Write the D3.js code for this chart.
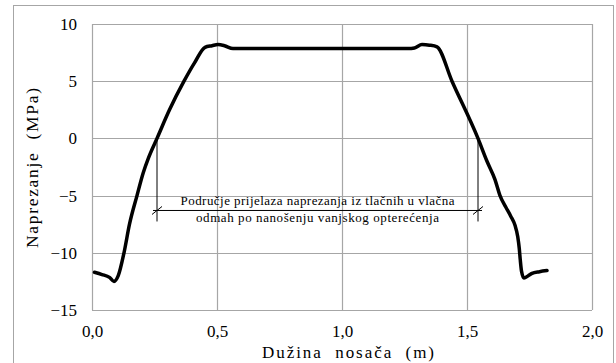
<!DOCTYPE html>
<html>
<head>
<meta charset="utf-8">
<script src="https://cdn.jsdelivr.net/npm/d3@7"></script>
<style>
  html, body { margin: 0; padding: 0; background: #fff; }
  svg { display: block; }
</style>
</head>
<body>
<svg id="chart" width="616" height="363"></svg>
<script>
// Stress along the beam length (m, MPa)
const positions = [0.01, 0.04, 0.07, 0.088, 0.105, 0.128, 0.15, 0.18, 0.205, 0.226, 0.26, 0.31, 0.368, 0.41, 0.452, 0.48, 0.504, 0.53, 0.564,
                   1.264, 1.29, 1.32, 1.35, 1.38, 1.44, 1.544, 1.58, 1.612, 1.632, 1.655, 1.675, 1.692, 1.703, 1.709, 1.713, 1.718, 1.728, 1.745, 1.76, 1.79, 1.82];
const stress    = [-11.7, -11.9, -12.15, -12.5, -12.0, -10.0, -7.5, -5.0, -3.0, -1.7, 0.0, 2.5, 5.0, 6.6, 7.96, 8.1, 8.2, 8.1, 7.85,
                   7.85, 7.9, 8.2, 8.15, 8.0, 5.0, 0.0, -2.0, -3.6, -5.0, -6.0, -6.8, -7.6, -8.6, -9.6, -10.6, -11.6, -12.2, -12.0, -11.8, -11.65, -11.55];

const xTicks = [0.0, 0.5, 1.0, 1.5, 2.0];
const yTicks = [-15, -10, -5, 0, 5, 10];

// Zone where stress changes from compression to tension
const zoneBounds = [0.26, 1.544];
const zoneLabel = ["Područje prijelaza naprezanja iz tlačnih u vlačna",
                   "odmah po nanošenju vanjskog opterećenja"];
const zoneArrowStress = -6.3;

const xTitle = "Dužina  nosača  (m)";
const yTitle = "Naprezanje  (MPa)";

const SERIF = "'Liberation Serif', 'Times New Roman', serif";

const svg = d3.select("#chart");
const m = { left: 92, right: 592, top: 24, bottom: 310 };

const x = d3.scaleLinear().domain([0, 2]).range([m.left, m.right]);
const y = d3.scaleLinear().domain([-15, 10]).range([m.bottom, m.top]);
const fmt = d => d3.format(".1f")(d).replace(".", ",");

// outer chart frame
svg.append("rect")
  .attr("x", 13.5).attr("y", 5.5).attr("width", 600).attr("height", 370)
  .attr("fill", "none").attr("stroke", "#a6a6a6").attr("stroke-width", 1);

// gridlines
const grid = svg.append("g").attr("stroke", "#a6a6a6").attr("stroke-width", 1.2);
grid.selectAll("line.h").data(yTicks).join("line")
  .attr("x1", m.left).attr("x2", m.right)
  .attr("y1", d => Math.round(y(d)) + 0.5).attr("y2", d => Math.round(y(d)) + 0.5);
grid.selectAll("line.v").data(xTicks).join("line")
  .attr("y1", m.top).attr("y2", m.bottom)
  .attr("x1", d => Math.round(x(d)) + 0.5).attr("x2", d => Math.round(x(d)) + 0.5);

// tick labels via axes without lines
const yAxis = svg.append("g").attr("transform", `translate(${m.left},0)`)
  .call(d3.axisLeft(y).tickValues(yTicks).tickSize(0).tickPadding(15));
yAxis.select(".domain").remove();
yAxis.selectAll("text").style("font-size", "17px").style("font-family", SERIF).attr("fill", "#000");

const xAxis = svg.append("g").attr("transform", `translate(0,${m.bottom})`)
  .call(d3.axisBottom(x).tickValues(xTicks).tickFormat(fmt).tickSize(0).tickPadding(15));
xAxis.select(".domain").remove();
xAxis.selectAll("text").style("font-size", "17px").style("font-family", SERIF).attr("fill", "#000");

// axis titles
svg.append("text")
  .attr("transform", `translate(38,168) rotate(-90)`)
  .attr("text-anchor", "middle")
  .attr("textLength", 160).attr("lengthAdjust", "spacing")
  .style("font-size", "17.5px").style("font-family", SERIF)
  .style("white-space", "pre").text(yTitle);
svg.append("text")
  .attr("x", 348).attr("y", 358)
  .attr("text-anchor", "middle")
  .attr("textLength", 172).attr("lengthAdjust", "spacing")
  .style("font-size", "17px").style("font-family", SERIF)
  .style("white-space", "pre").text(xTitle);

// annotation: bounds, dimension line and ticks
const ann = svg.append("g").attr("stroke", "#000").attr("stroke-width", 1);
const yArrow = y(zoneArrowStress);
zoneBounds.forEach(b => {
  ann.append("line").attr("x1", x(b)).attr("x2", x(b))
    .attr("y1", y(0)).attr("y2", yArrow + 11);
  ann.append("line").attr("x1", x(b) - 5).attr("x2", x(b) + 5)
    .attr("y1", yArrow + 4).attr("y2", yArrow - 4);
});
ann.append("line").attr("x1", x(zoneBounds[0]) - 4).attr("x2", x(zoneBounds[1]) + 4)
  .attr("y1", yArrow).attr("y2", yArrow);

const cx = (x(zoneBounds[0]) + x(zoneBounds[1])) / 2;
[[zoneLabel[0], yArrow - 5, 274], [zoneLabel[1], yArrow + 12, 243]].forEach(([t, ty, w]) => {
  svg.append("text").attr("x", cx).attr("y", ty)
    .attr("text-anchor", "middle")
    .attr("textLength", w).attr("lengthAdjust", "spacing")
    .style("font-size", "13px").style("font-family", SERIF)
    .text(t);
});

// stress curve
const line = d3.line().x(d => x(d[0])).y(d => y(d[1])).curve(d3.curveMonotoneX);
svg.append("path")
  .datum(positions.map((p, i) => [p, stress[i]]))
  .attr("d", line)
  .attr("fill", "none").attr("stroke", "#000").attr("stroke-width", 3.5)
  .attr("stroke-linejoin", "round").attr("stroke-linecap", "round");
</script>
</body>
</html>
